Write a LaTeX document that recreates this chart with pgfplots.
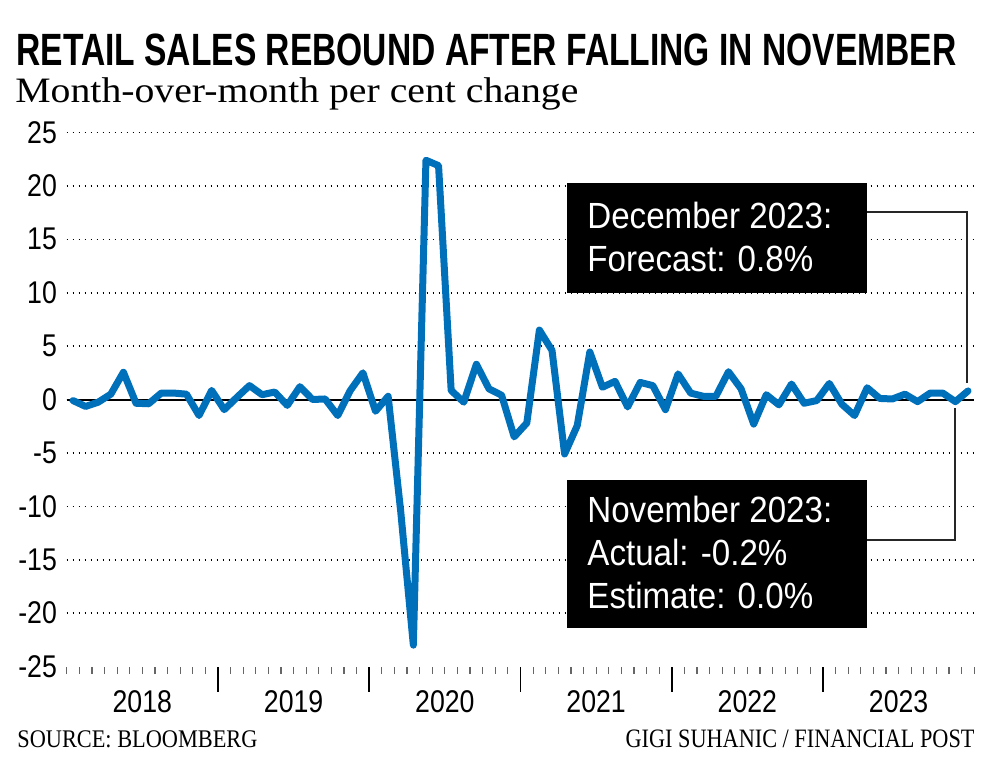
\documentclass[border=0pt]{standalone}
\usepackage{fontspec}
\usepackage{pgfplots}
\pgfplotsset{compat=1.18}
\setmainfont{Liberation Sans}
\newfontfamily\condsans[FakeStretch=0.85]{Liberation Sans}
\newfontfamily\boxsans[FakeStretch=0.91]{Liberation Sans}
\newfontfamily\serifface{Liberation Serif}
\definecolor{fpblue}{RGB}{0,112,186}

\begin{document}
\begin{tikzpicture}
\path[use as bounding box] (0,0) rectangle (500pt,386pt);
\begin{axis}[
  at={(33.35pt,52.75pt)}, anchor=south west,
  scale only axis, width=453.8pt, height=267pt,
  xmin=-0.5, xmax=71.5, ymin=-25, ymax=25,
  clip=false,
  axis line style={draw=none},
  ytick={-20,-15,...,25},
  yticklabels={-20,-15,-10,-5,0,5,10,15,20,25},
  extra y ticks={-25}, extra y tick labels={-25},
  extra y tick style={grid=none},
  ymajorgrids,
  major grid style={black, line width=0.8pt, dash pattern=on 0.6pt off 2.4pt},
  ytick style={draw=none},
  yticklabel style={anchor=east, inner sep=0pt, xshift=-4.7pt},
  xtick={5.5,17.5,...,65.5},
  xticklabels={2018,2019,2020,2021,2022,2023},
  xtick pos=left,
  tick align=outside,
  major tick length=0pt,
  minor xtick={-0.5,0.5,...,71.5},
  minor tick length=3.8pt,
  every minor tick/.append style={black!60, line width=0.6pt},
  extra x ticks={11.5,23.5,35.5,47.5,59.5},
  extra x tick labels={},
  extra x tick style={major tick length=12.5pt, every major tick/.append style={black, line width=0.8pt}},
  xticklabel style={anchor=north, inner sep=0pt, yshift=-11.9pt},
  tick label style={font=\condsans\fontsize{15.7}{16}\selectfont},
]
\draw[black, line width=1pt] (axis cs:-0.5,0) -- (axis cs:71.5,0);
\addplot[fpblue, line width=3.5pt, line join=round, line cap=round] coordinates {
(0,-0.1) (1,-0.65) (2,-0.25) (3,0.5) (4,2.55) (5,-0.35) (6,-0.4) (7,0.6)
(8,0.6) (9,0.5) (10,-1.5) (11,0.85) (12,-0.95) (13,0.2) (14,1.3) (15,0.45)
(16,0.7) (17,-0.55) (18,1.2) (19,0) (20,0.05) (21,-1.5) (22,0.85) (23,2.5)
(24,-1.1) (25,0.3) (26,-10.5) (27,-23.0) (28,22.4) (29,21.9) (30,0.85) (31,-0.25)
(32,3.3) (33,1.0) (34,0.4) (35,-3.5) (36,-2.2) (37,6.5) (38,4.6) (39,-5.1)
(40,-2.45) (41,4.45) (42,1.15) (43,1.7) (44,-0.7) (45,1.6) (46,1.3) (47,-0.95)
(48,2.4) (49,0.6) (50,0.3) (51,0.3) (52,2.6) (53,1.0) (54,-2.3) (55,0.45)
(56,-0.5) (57,1.45) (58,-0.35) (59,-0.1) (60,1.5) (61,-0.45) (62,-1.5) (63,1.1)
(64,0.1) (65,0.05) (66,0.5) (67,-0.2) (68,0.6) (69,0.6) (70,-0.2) (71,0.8)
};
\end{axis}
\begin{scope}[x=0.5pt, y=-0.5pt, yshift=386pt]
  % title and subtitle
  \node[anchor=base west, inner sep=0pt] at (16,66)
    {\resizebox{470pt}{15.8pt}{\bfseries RETAIL SALES REBOUND AFTER FALLING IN NOVEMBER}};
  \node[anchor=base west, inner sep=0pt] at (15,103)
    {\resizebox{281.5pt}{12.4pt}{\serifface Month-over-month per cent change}};
  % annotation boxes
  \fill[black] (567,183) rectangle (867,293);
  \draw[line width=0.75pt, black!85] (867,212) -- (967,212) -- (967,383);
  \node[anchor=base west, inner sep=0pt, text=white, font=\boxsans\fontsize{18.2}{20}\selectfont] at (587,229) {December 2023:};
  \node[anchor=base west, inner sep=0pt, text=white, font=\boxsans\fontsize{18.2}{20}\selectfont] at (587,272) {Forecast: 0.8\%};
  \fill[black] (567,480) rectangle (867,628);
  \draw[line width=0.75pt, black!85] (867,540) -- (955,540) -- (955,408);
  \node[anchor=base west, inner sep=0pt, text=white, font=\boxsans\fontsize{18.2}{20}\selectfont] at (587,522) {November 2023:};
  \node[anchor=base west, inner sep=0pt, text=white, font=\boxsans\fontsize{18.2}{20}\selectfont] at (587,565) {Actual: -0.2\%};
  \node[anchor=base west, inner sep=0pt, text=white, font=\boxsans\fontsize{18.2}{20}\selectfont] at (587,608) {Estimate: 0.0\%};
  % footer
  \node[anchor=base west, inner sep=0pt] at (17,747)
    {\resizebox{120pt}{8.4pt}{\serifface SOURCE: BLOOMBERG}};
  \node[anchor=base east, inner sep=0pt] at (975,747)
    {\resizebox{174.5pt}{8.8pt}{\serifface GIGI SUHANIC / FINANCIAL POST}};
\end{scope}
\end{tikzpicture}
\end{document}
